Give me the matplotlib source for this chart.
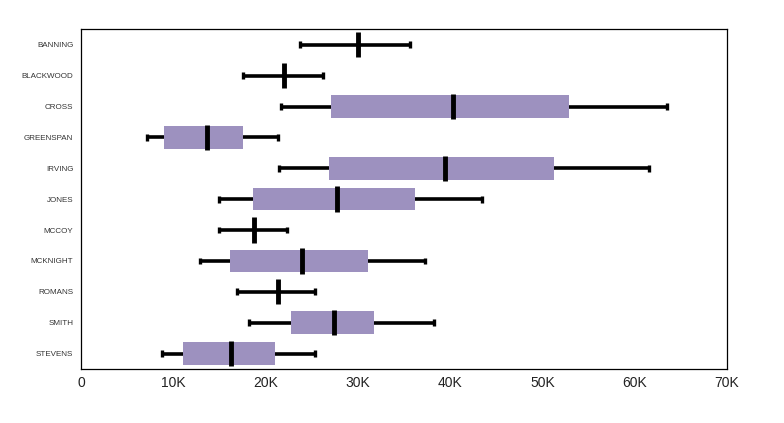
import matplotlib
matplotlib.use("Agg")
import matplotlib.pyplot as plt
from matplotlib.ticker import FuncFormatter

categories = ["BANNING", "BLACKWOOD", "CROSS", "GREENSPAN", "IRVING", "JONES",
              "MCCOY", "MCKNIGHT", "ROMANS", "SMITH", "STEVENS"]
whisker_lo = [23700, 17500, 21700, 7200, 21500, 14900, 14900, 12900, 16900, 18200, 8800]
q1 =         [30000, 22000, 27100, 9000, 26900, 18600, 18800, 16100, 21400, 22800, 11100]
median =     [30000, 22000, 40300, 13600, 39400, 27700, 18800, 23900, 21400, 27400, 16300]
q3 =         [30000, 22000, 52900, 17600, 51200, 36200, 18800, 31100, 21400, 31700, 21000]
whisker_hi = [35700, 26200, 63500, 21300, 61600, 43500, 22300, 37300, 25400, 38200, 25400]
xticks = [0, 10000, 20000, 30000, 40000, 50000, 60000, 70000]

box_color = "#9d91bf"

fig = plt.figure(figsize=(7.84, 4.23), dpi=100)
ax = fig.add_axes([81/784, 1-369/423, (727-81)/784, (369-29.3)/423])

y = list(range(len(categories)))
ax.hlines(y, whisker_lo, whisker_hi, colors="black", linewidth=2.6, zorder=1)
ax.vlines(whisker_lo, [v-0.11 for v in y], [v+0.11 for v in y], colors="black", linewidth=2.4, zorder=1)
ax.vlines(whisker_hi, [v-0.11 for v in y], [v+0.11 for v in y], colors="black", linewidth=2.4, zorder=1)
widths = [b - a for a, b in zip(q1, q3)]
ax.barh(y, widths, left=q1, height=0.73, color=box_color, edgecolor="none", zorder=2)
ax.vlines(median, [v-0.41 for v in y], [v+0.41 for v in y], colors="black", linewidth=3.5, zorder=3)

ax.set_xlim(0, 70000)
ax.set_ylim(len(categories)-0.5, -0.5)
ax.set_yticks(y)
ax.set_yticklabels(categories)
ax.set_xticks(xticks)
ax.xaxis.set_major_formatter(FuncFormatter(lambda v, p: "0" if v == 0 else f"{int(v/1000)}K"))
ax.tick_params(axis="y", length=0, pad=5.5, labelsize=5.8, labelcolor="#333333")
ax.tick_params(axis="x", length=0, pad=5, labelsize=10, labelcolor="#222222")
for lab in ax.get_yticklabels() + ax.get_xticklabels():
    lab.set_fontfamily("Liberation Sans")
for s in ax.spines.values():
    s.set_linewidth(0.9)
    s.set_color("black")

fig.savefig("out.png", dpi=100)
